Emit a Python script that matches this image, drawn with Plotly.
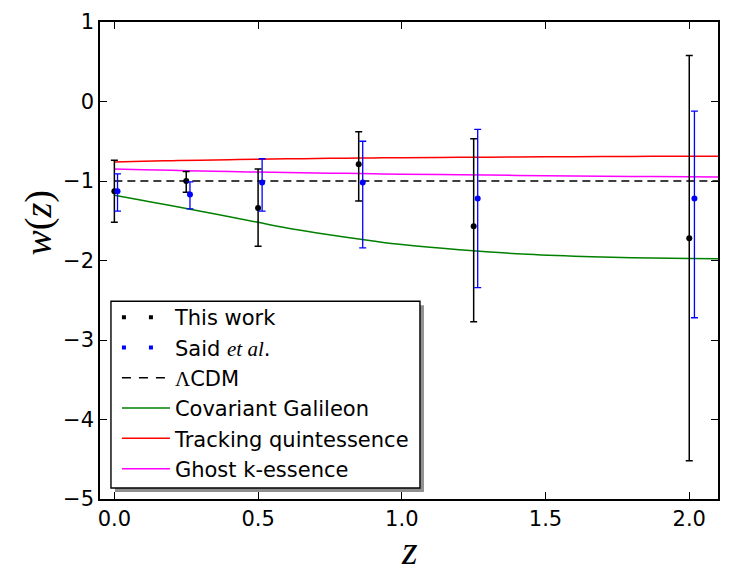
import plotly.graph_objects as go

# ---- data ----
z_this = [0.0, 0.25, 0.5, 0.85, 1.25, 2.0]
w_this = [-1.13, -1.00, -1.34, -0.79, -1.57, -1.72]
w_this_plus = [0.39, 0.12, 0.49, 0.41, 1.10, 2.30]
w_this_minus = [0.39, 0.14, 0.48, 0.46, 1.20, 2.80]

z_said = [0.011, 0.263, 0.514, 0.864, 1.264, 2.018]
w_said = [-1.13, -1.17, -1.02, -1.02, -1.22, -1.22]
w_said_plus = [0.22, 0.16, 0.30, 0.52, 0.87, 1.10]
w_said_minus = [0.25, 0.18, 0.36, 0.82, 1.12, 1.50]

z_model = [0.0, 0.1, 0.2, 0.3, 0.4, 0.5, 0.6, 0.7, 0.8, 0.9, 1.0, 1.2, 1.4, 1.6, 1.8, 2.0, 2.1]
w_lcdm = [-1.0] * len(z_model)
w_galileon = [-1.18, -1.245, -1.31, -1.38, -1.45, -1.52, -1.59, -1.65, -1.705, -1.755, -1.80,
              -1.865, -1.915, -1.945, -1.965, -1.975, -1.978]
w_tracking = [-0.76, -0.752, -0.745, -0.738, -0.732, -0.726, -0.721, -0.717, -0.713, -0.71, -0.707,
              -0.702, -0.698, -0.694, -0.691, -0.689, -0.688]
w_ghost = [-0.85, -0.858, -0.866, -0.874, -0.882, -0.888, -0.894, -0.899, -0.904, -0.909, -0.914,
           -0.922, -0.93, -0.937, -0.943, -0.948, -0.95]

x_ticks = [0.0, 0.5, 1.0, 1.5, 2.0]
x_ticklabels = ["0.0", "0.5", "1.0", "1.5", "2.0"]
y_ticks = [1, 0, -1, -2, -3, -4, -5]
y_ticklabels = ["1", "0", "\u22121", "\u22122", "\u22123", "\u22124", "\u22125"]

SERIF = "Liberation Serif"
SANS = "DejaVu Sans"
FS = 21

fig = go.Figure()

# model curves
fig.add_trace(go.Scatter(x=z_model, y=w_lcdm, mode="lines", showlegend=False,
                         line=dict(color="black", width=1.5, dash="8px,5px")))
fig.add_trace(go.Scatter(x=z_model, y=w_galileon, mode="lines", showlegend=False,
                         line=dict(color="#008000", width=1.5, shape="spline", smoothing=1)))
fig.add_trace(go.Scatter(x=z_model, y=w_tracking, mode="lines", showlegend=False,
                         line=dict(color="#ff0000", width=1.5, shape="spline", smoothing=1)))
fig.add_trace(go.Scatter(x=z_model, y=w_ghost, mode="lines", showlegend=False,
                         line=dict(color="#ff00ff", width=1.5, shape="spline", smoothing=1)))

# data points
fig.add_trace(go.Scatter(x=z_this, y=w_this, mode="markers", showlegend=False,
                         marker=dict(color="black", size=6),
                         error_y=dict(type="data", symmetric=False, array=w_this_plus,
                                      arrayminus=w_this_minus, color="black",
                                      thickness=1.5, width=3.5)))
fig.add_trace(go.Scatter(x=z_said, y=w_said, mode="markers", showlegend=False,
                         marker=dict(color="#0000ff", size=6),
                         error_y=dict(type="data", symmetric=False, array=w_said_plus,
                                      arrayminus=w_said_minus, color="#0000ff",
                                      thickness=1.3, width=3.5)))

# legend entries
legend_items = [
    ("This work", dict(color="black", width=4, dash="4px,23px")),
    ("Said <span style='font-family:Liberation Serif'><i>et al</i></span>.",
     dict(color="#0000ff", width=4, dash="4px,23px")),
    ("<span style='font-family:Liberation Serif'>\u039b</span>CDM",
     dict(color="black", width=1.5, dash="9px,8px")),
    ("Covariant Galileon", dict(color="#008000", width=1.5)),
    ("Tracking quintessence", dict(color="#ff0000", width=1.5)),
    ("Ghost k-essence", dict(color="#ff00ff", width=1.5)),
]
for name, ln in legend_items:
    fig.add_trace(go.Scatter(x=[None], y=[None], mode="lines", name=name, line=ln,
                             showlegend=True))

axis_common = dict(
    showgrid=False, zeroline=False, showline=True, linecolor="black", linewidth=1.5,
    mirror="allticks", ticks="inside", ticklen=7, tickwidth=1.2, tickcolor="black",
    tickfont=dict(family=SANS, size=FS, color="black"),
)

fig.update_layout(
    width=730, height=584,
    margin=dict(l=100, r=10, t=19, b=85),
    paper_bgcolor="white", plot_bgcolor="white",
    xaxis=dict(range=[-0.05, 2.1], tickvals=x_ticks, ticktext=x_ticklabels, **axis_common),
    yaxis=dict(range=[-5, 1], tickvals=y_ticks, ticktext=y_ticklabels, **axis_common),
    legend=dict(x=0.0274, y=0.4235, xanchor="left", yanchor="top",
                bgcolor="rgba(0,0,0,0)", borderwidth=0,
                font=dict(family=SANS, size=FS, color="black"),
                itemwidth=48, traceorder="normal"),
    shapes=[
        dict(type="rect", xref="paper", yref="paper", x0=0.02419, x1=0.52419,
             y0=0.01458, y1=0.40625, fillcolor="#909090", line=dict(width=0),
             layer="above"),
        dict(type="rect", xref="paper", yref="paper", x0=0.01774, x1=0.51774,
             y0=0.02292, y1=0.41458, fillcolor="white",
             line=dict(color="black", width=1.4), layer="above"),
    ],
    annotations=[
        dict(text="<i>w</i>(<i>z</i>)", xref="paper", yref="paper", x=-0.1, y=0.578,
             showarrow=False, textangle=-90, xanchor="center", yanchor="middle",
             font=dict(family=SERIF, size=38, color="black")),
        dict(text="<i>z</i>", xref="paper", yref="paper", x=0.5, y=-0.107,
             showarrow=False, xanchor="center", yanchor="middle",
             font=dict(family=SERIF, size=40, color="black")),
    ],
)

fig.write_html("out.html")
